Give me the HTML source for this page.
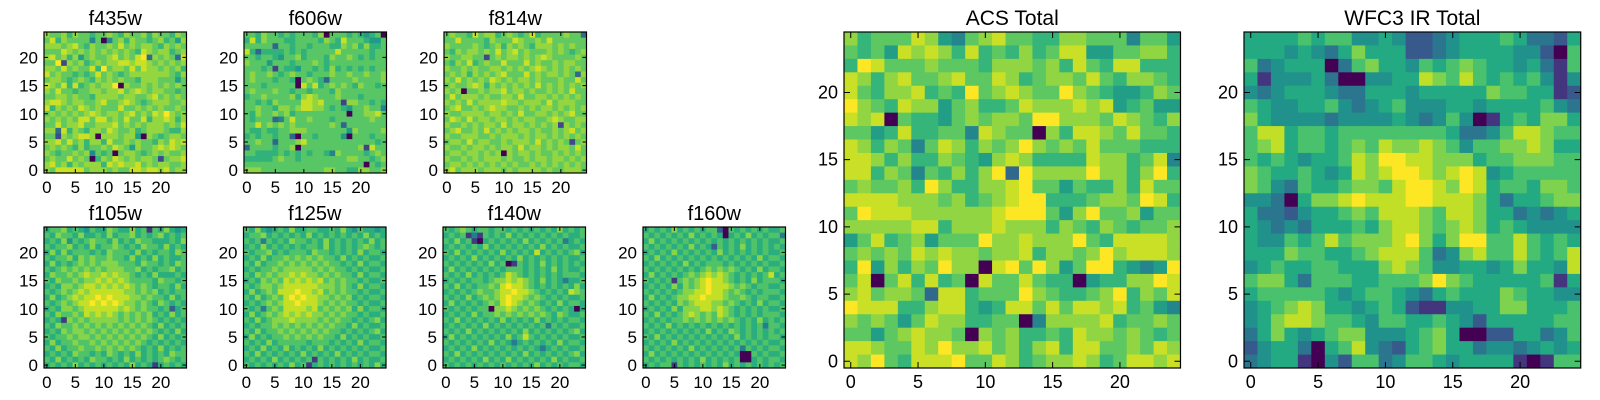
<!DOCTYPE html>
<html><head><meta charset="utf-8"><style>
html,body{margin:0;padding:0;background:#fff;}
svg{display:block;font-family:"Liberation Sans",sans-serif;}
</style></head><body>
<svg id="fig" width="1600" height="400" viewBox="0 0 1600 400" xmlns="http://www.w3.org/2000/svg"></svg>
<script>
const tickValues = [0,5,10,15,20];
const panelTitles = ["f435w","f606w","f814w","f105w","f125w","f140w","f160w","ACS Total","WFC3 IR Total"];
// rows listed from y=24 (top) down to y=0; digits 0-9 = normalized intensity level
const f435w = ["7667576656676576675766576","6857666636036757665675647","7776786576676867677657676","6668767676767676587677567","7867574676678676892767628","6691767567677887887676767","7768676685967768687767675","8676656568676567777777657","6776567657676766577766646","8768585676779076676767676","7686656677677867876776656","6677676657777677667867676","7887677667866787656777667","8576768767666866767676676","6767676787677678676879767","7676768868867686685778757","6686778667778676767776768","7728576577687667567776557","6617678870777677407656776","7786867577586676766576878","6767657566768764766787876","7656676736560677656767667","6766867605768767677616778","7867576777587877867677667","7688888677767668878878677"];
const f606w = ["6657665656665706665654560","5857666556666576586665446","6666626656656665576757556","8525555656566666866666566","6656654667566657667656566","7666466656667656666666666","6665616554665657565656566","6766765676656667667667667","6766656650676526666766667","6665666660868567676576656","6766676656656665766666666","5667666675787666766656666","6656576666887866617766565","6676657767887765654667663","6576676756666666660667786","6566623686676665666666766","6686767676666667626666666","6556556677766666664766667","5656656620665666640666566","6676626667866666666666656","2666656670666666666671866","6655556565656653766665676","5555567665666666667766567","6666666666666666666660656","7776666666666677665577667"];
const f814w = ["6766586775676568566667662","6686666576668766768666666","7666676567576765777676766","6576776768678676667676567","7667766167677676787666676","6576856766866686766767766","7667676677676767876767676","6767576767866686767767627","7686767687676776766676686","6766787576767676867676767","7670667677867767667676866","6867776766776866776767676","7676867777877677768677766","6786676787766767677676767","7667777677676866776767866","6876867767767677667876677","7667676776867767676717676","6786676867676776766767867","7667776676777676776767676","6776867766767776867676167","7667677676776867767677686","6776776767076776766767676","7667676777676676776776767","6776767676767667676767676","7867776777676777767667776"];
const f105w = ["5667565465576557561657545","6576657556575667565675656","5657465676657565766555657","6566756575667656576657565","5757566656576665756566576","6566757676676657565756556","5756567676777666576656576","6567676767677766756566756","5766767877878776565755565","6576676778787876666576656","5657767887878787676566575","6567678788888877676756566","5756787889898887767665756","6567678898989877676576565","5657767888888787676656256","6576676878787676767565756","5651767677777676767656565","6576676767676767676575656","5657677676767676767656575","6566767767676767676575656","5756676676767676765656565","6575667667676767656575656","5656576656576565756565766","6575656576656575656567656","5656575656565657565156565"];
const f125w = ["6575456575566556575465545","5667565656575656565657565","6563656576656575656565756","5657565656566575656567656","6566756566657665656575665","5657566767676766575656556","6575667676767676656575665","5656676777776767665656556","6576767787877676766575665","5657676878787867676656556","6567767888888777676575665","5756768889887867676656556","6575676898988776767565665","5656767889888767676656556","6563676888878676767575665","5756767878787767676656556","6575677787777676766565675","5656676767676767665756556","6575667676767676656565675","5756566767676766575656556","6565756666656665656575665","5657565756565756565656556","6575656565756565756565665","5656575656561656565756556","6565656575615656565656575"];
const f140w = ["6567656656656565656575656","5656131656575656565656556","6575610565656575656563565","5656565756565656575656556","6575656565756565856565675","5656575656565756565656556","6565656575601656575656565","5756565656566656565756556","6565756565687656565656665","5656566567787876575653556","6575656676898876565656575","5656567667889887656565876","6565756767898876765656556","5756565676898767656575665","6565656607787676765656505","5656575667676767676576556","6575656565756565756565665","5656565756565656563656556","6565756565656575656565675","5756565656575686565656556","6565656575653565656575665","5656575656565656535656556","6575656565656575656565675","5656565756575656565756556","6565656565656565756565665"];
const f160w = ["5656575656566206565656556","6565656575656505657565663","5756565656565656565656556","6565656575652656575656565","5656575656565756565656556","6575656565656565656575665","5656565756566656565656556","6565656565676767656575665","5756565676787876565656856","6565616767898876565756665","5656575767898887676566556","6565656778898876765656665","5756567788988876676566556","6565657678887767656575665","5656575777887876565656556","6575656787676876565656665","5656566767676767656575656","6565756565656565656563665","5656565656575657656565656","6575656565656565756565665","5656575656565656565656556","6565656575656565636565665","5756565656565656500656556","6565656565756565600565665","5656616565656575656565656"];
const acsTotal = ["7566687436786655776663664","6564878758565756884466775","5986667666577767586588555","8757866786687567768657765","8657785659678766976544576","9765877467556877787845644","8780655467677699777687657","6645855663876607588768665","8757636875767976768666555","8875755765478755558775683","8857636575792977779775795","6766759755778966465575866","8888777675678995556776985","6988877777789996479667466","7777788577787775765765667","4685674666977877796588887","6767687877677857767978887","5947576977089697469954349","6806858560866865504557798","7867762885666976556795768","9888557885458868688785643","7676468775566037777856676","6646787760767556587767656","8876687977867578588667687","8796588896687567787568878"];
const wfc3Total = ["5555656644542234555653325","5554543575552234555544206","6345550367554656765545316","5144453004455876865656414","4345554335554555557665512","6544556434564445545555643","7544443444454346401565775","6885665666666665334688766","6785665676877876466778755","6565455687998877756677766","7655654587899878984566666","7643655677689987985665776","4430577898889988875355677","5332455676888768875534345","5434355565788767875654444","5446568677789757996686565","5557665567888634786686568","4565566555787644554575548","6775366655666797655555615","5666665456654356555765544","4567875545652114455775556","4578876654665565425555566","3575456774445675002255346","2455305684325675534434545","3455104266346654555510166"];

const viridis = [[68,1,84],[72,36,117],[65,68,135],[53,95,141],[42,120,142],[33,145,140],[34,168,132],[68,191,112],[122,209,81],[189,223,38],[253,231,37]];
function cmap(t){
  t=Math.max(0,Math.min(1,t));
  const p=t*(viridis.length-1), i=Math.min(Math.floor(p),viridis.length-2), f=p-i;
  const a=viridis[i], b=viridis[i+1];
  return "rgb("+a.map((v,k)=>Math.round(v+(b[k]-v)*f)).join(",")+")";
}
const NS="http://www.w3.org/2000/svg";
const svg=document.getElementById("fig");
function mk(tag,attrs,parent){const e=document.createElementNS(NS,tag);for(const k in attrs)e.setAttribute(k,attrs[k]);(parent||svg).appendChild(e);return e;}

const grids=[f435w,f606w,f814w,f105w,f125w,f140w,f160w,acsTotal,wfc3Total];
const frames=[[44,32,142.5,141],[244,32,142.5,141],[444,32,142.5,141],[44,227,142.5,141],[243.5,227,142.5,141],[443,227,142.5,141],[643,227,142.5,141],[844,32,336.5,336],[1244,32,336.7,336]];
const slugs=["f435w","f606w","f814w","f105w","f125w","f140w","f160w","acs-total","wfc3-ir-total"];
const gammas=[0.7,0.75,0.7,0.8,0.8,0.8,0.8,0.72,0.85];

grids.forEach((grid,pi)=>{
  const [L,T,W,H]=frames[pi];
  const n=25;
  const xS=v=>L+(v+0.5)*W/n, yS=v=>T+H-(v+0.5)*H/n;
  const cw=W/n, ch=H/n;
  const g=mk("g",{});
  
  
  grid.forEach((row,ri)=>{
    const y=n-1-ri;
    for(let x=0;x<n;x++){
      const d=parseInt(row[x]||"6",10);
      const r=mk("rect",{x:(xS(x)-cw/2).toFixed(2),y:(yS(y)-ch/2).toFixed(2),width:(cw+0.4).toFixed(2),height:(ch+0.4).toFixed(2),fill:cmap(Math.pow(d/9,gammas[pi]))},g);
      
      
    }
  });
  const fr=mk("rect",{x:L,y:T,width:W,height:H,fill:"none",stroke:"#000","stroke-width":1.2},g);
  
  
  const big=pi>=7;
  const tl=big?6:4;
  const fs=big?18:17;
  tickValues.forEach(v=>{
    const px=xS(v), py=yS(v);
    mk("path",{d:`M${px},${T+H}v${-tl}M${px},${T}v${tl}M${L},${py}h${tl}M${L+W},${py}h${-tl}`,stroke:"#000","stroke-width":1},g);
    const xl=mk("text",{x:px,y:T+H+20,"text-anchor":"middle","font-size":fs,fill:"#000"},g);
    xl.textContent=v;
    
    
    const yl=mk("text",{x:L-6,y:py+6,"text-anchor":"end","font-size":fs,fill:"#000"},g);
    yl.textContent=v;
    
    
  });
  const t=mk("text",{x:L+W/2,y:T-7,"text-anchor":"middle","font-size":big?21:20,fill:"#000"},g);
  t.textContent=panelTitles[pi];
  
  
});
</script>
</body></html>
